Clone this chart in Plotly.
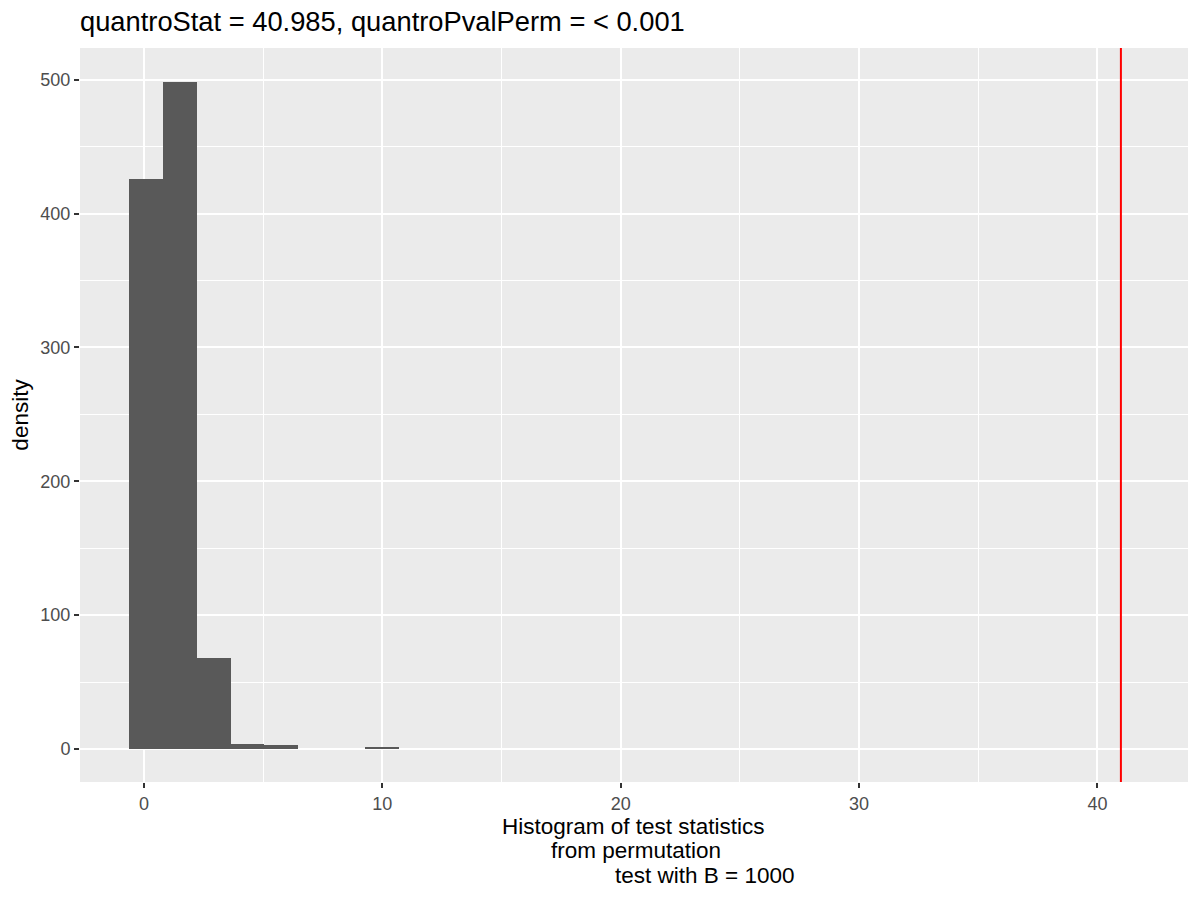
import plotly.graph_objects as go

# histogram of permutation test statistics (counts)
bin_centers = [0.10, 1.51, 2.93, 4.34, 5.75, 7.17, 8.58, 9.99]
bin_counts = [426, 498, 68, 4, 3, 0, 0, 1]
bin_width = 1.413

quantro_stat = 40.985
title_text = "quantroStat = 40.985, quantroPvalPerm = < 0.001"
xlab_lines = ["Histogram of test statistics", "from permutation", "test with B = 1000"]
xlab_left_px = [500, 549, 613]  # ragged lines as in the original label
xlab_mid_px = [826, 850, 875]

FONT = "Liberation Sans, Arial"

# page has an 8px body margin, so the figure is 8px smaller each way
OFF = 8
W, H = 1200 - OFF, 900 - OFF
ml, mr, mt, mb = 80 - OFF, 12, 48 - OFF, 118
pw, ph = W - ml - mr, H - mt - mb

fig = go.Figure()

fig.add_trace(go.Bar(
    x=bin_centers,
    y=bin_counts,
    width=bin_width,
    marker=dict(color="#595959", line=dict(width=0)),
    showlegend=False,
))

# observed statistic
fig.add_shape(type="line", x0=quantro_stat, x1=quantro_stat, y0=0, y1=1,
              xref="x", yref="paper", line=dict(color="#FF0000", width=2), layer="above")

axis_common = dict(
    showgrid=True, gridcolor="white", gridwidth=2,
    zeroline=False, showline=False,
    ticks="outside", ticklen=5, tickwidth=2, tickcolor="#333333",
    tickfont=dict(family=FONT, size=18, color="#4D4D4D"),
    minor=dict(showgrid=True, gridcolor="white", gridwidth=1),
)

fig.update_xaxes(range=[-2.68, 43.80], tick0=0, dtick=10, **axis_common)
fig.update_xaxes(minor_dtick=5)
fig.update_yaxes(range=[-24.7, 523.7], tick0=0, dtick=100, **axis_common)
fig.update_yaxes(minor_dtick=50)

fig.update_yaxes(title=dict(text="density", standoff=6,
                            font=dict(family=FONT, size=22.5, color="black")))

# x label lines as separate annotations to keep the ragged layout
for txt, lx, ly in zip(xlab_lines, xlab_left_px, xlab_mid_px):
    fig.add_annotation(
        text=txt, xref="paper", yref="paper",
        x=(lx - OFF - ml) / pw, y=(H - mb - (ly - OFF)) / ph,
        xanchor="left", yanchor="middle", showarrow=False,
        font=dict(family=FONT, size=22.5, color="black"),
    )

fig.update_layout(
    width=W, height=H,
    margin=dict(l=ml, r=mr, t=mt, b=mb),
    paper_bgcolor="white",
    plot_bgcolor="#EBEBEB",
    bargap=0,
    title=dict(text=title_text, x=ml / W, xanchor="left", y=1 - (21 - OFF) / H, yanchor="middle",
               font=dict(family=FONT, size=27.3, color="black")),
)

fig.write_html("out.html")
